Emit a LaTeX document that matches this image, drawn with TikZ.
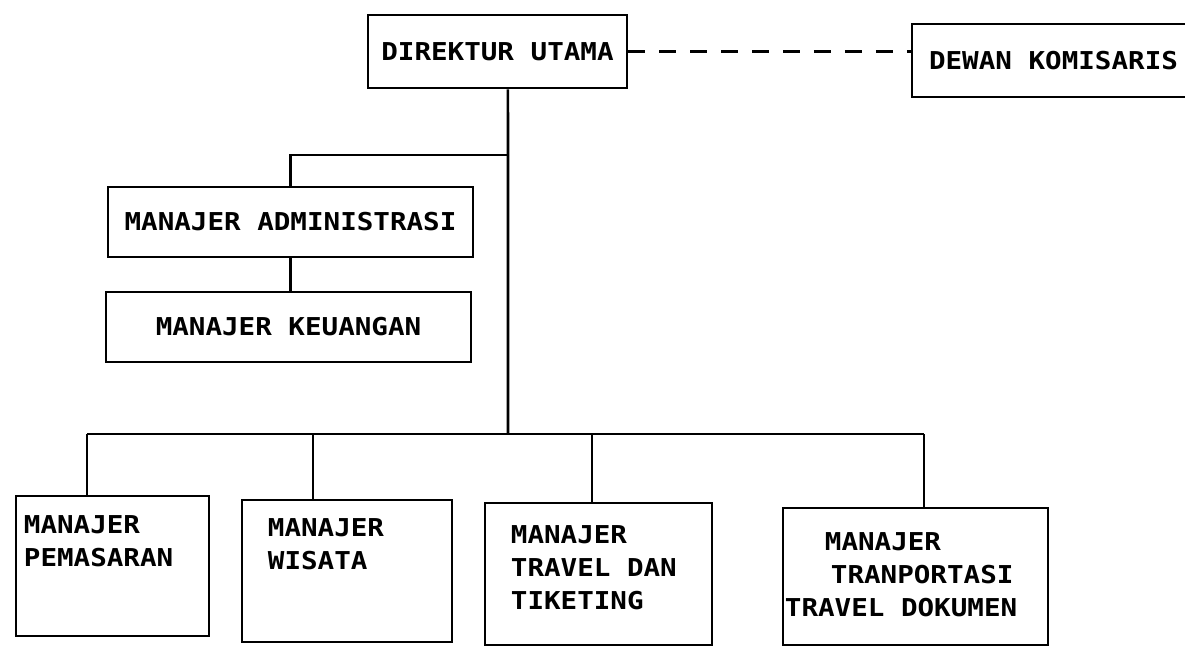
\documentclass[tikz,border=0pt]{standalone}
\usepackage{fontspec}
\newfontfamily\plotfont[FakeStretch=1.12]{DejaVu Sans Mono}

\tikzset{
  box/.style  = {draw, line width=1.9pt, inner sep=0pt},
  txt/.style  = {font=\plotfont\bfseries\fontsize{17.5}{23.5}\selectfont, align=left, inner sep=0pt},
  link/.style = {line width=1.9pt},
}

\begin{document}
\begin{tikzpicture}[x=0.025cm, y=-0.025cm]
  \useasboundingbox (0,0) rectangle (1185,647);

  % Les cadres du haut
  \node[box, txt, minimum width=6.475cm, minimum height=1.825cm] (dir) at (497.5,51.5) {DIREKTUR UTAMA};
  \node[box, txt, minimum width=7.075cm, minimum height=1.825cm] (dew) at (1053.5,60.5) {DEWAN KOMISARIS};
  \node[box, txt, minimum width=9.125cm, minimum height=1.75cm] (adm) at (290.5,222) {MANAJER ADMINISTRASI};
  \node[box, txt, minimum width=9.125cm, minimum height=1.75cm] (keu) at (288.5,327) {MANAJER KEUANGAN};

  % Les cadres du bas
  \node[box, minimum width=4.825cm, minimum height=3.5cm]   (pem) at (112.5,566) {};
  \node[box, minimum width=5.25cm,  minimum height=3.55cm]  (wis) at (347,571) {};
  \node[box, minimum width=5.675cm, minimum height=3.55cm]  (tra) at (598.5,574) {};
  \node[box, minimum width=6.625cm, minimum height=3.425cm] (trp) at (915.5,576.5) {};

  % Les textes
  \node[txt, anchor=north west] (pemtxt) at ([shift={(9,21)}]pem.north west) {MANAJER\\PEMASARAN};
  \node[txt, anchor=north west] (wistxt) at ([shift={(27,20)}]wis.north west) {MANAJER\\WISATA};
  \node[txt, anchor=north west] (tratxt) at ([shift={(27,24)}]tra.north west) {MANAJER\\TRAVEL DAN\\TIKETING};
  \node[txt, anchor=north west] (trptxt) at ([shift={(3,26)}]trp.north west)
    {\hspace*{1cm}MANAJER\\\hspace*{1.15cm}TRANPORTASI\\TRAVEL DOKUMEN};

  % Les liaisons
  \coordinate (bus) at (508,434);
  \coordinate (b1) at (87,434);
  \coordinate (b2) at (313,434);
  \coordinate (b3) at (592,434);
  \coordinate (b4) at (924,434);
  \coordinate (fork) at (508,155);

  \draw[link, dash pattern=on 12pt off 10pt] (dir.east) -- (dir.east -| dew.west);
  \draw[link] ([xshift=0.26cm]dir.south) -- (bus);
  \draw[link] (fork) -- (fork -| adm.north) -- (adm.north);
  \draw[link] (adm.south) -- (adm.south |- keu.north);
  \draw[link] (b1) -- (b4);
  \draw[link] (b1) -- (b1 |- pem.north);
  \draw[link] (b2) -- (b2 |- wis.north);
  \draw[link] (b3) -- (b3 |- tra.north);
  \draw[link] (b4) -- (b4 |- trp.north);

\end{tikzpicture}
\end{document}
